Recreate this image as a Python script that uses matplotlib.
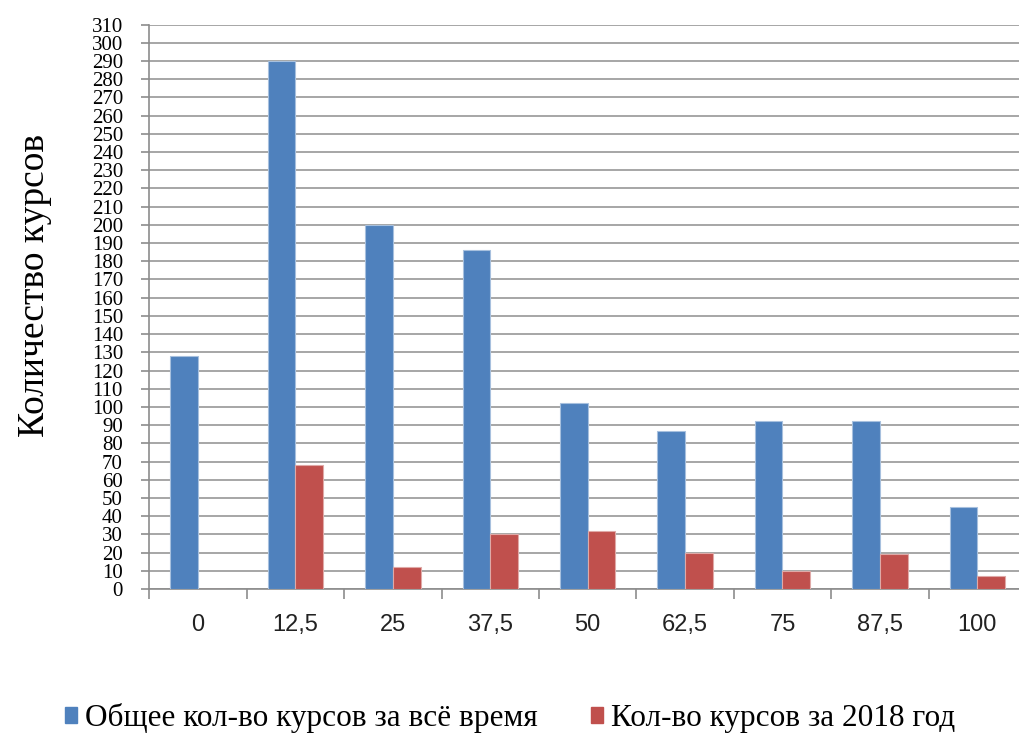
import matplotlib
matplotlib.use("Agg")
import matplotlib.pyplot as plt
from matplotlib.patches import Patch
import numpy as np

categories = ["0", "12,5", "25", "37,5", "50", "62,5", "75", "87,5", "100"]
total_all_time = [128, 290, 200, 186, 102, 87, 92, 92, 45]
total_2018 = [0, 68, 12, 30, 32, 20, 10, 19, 7]
series_names = ["Общее кол-во курсов за всё время", "Кол-во курсов за 2018 год"]
y_ticks = list(range(0, 311, 10))

BLUE = "#4F81BD"
RED = "#C0504D"
GRID = "#A6A6A6"
SERIF = "Liberation Serif"

fig = plt.figure(figsize=(10.2, 7.33), dpi=100)
ax = fig.add_axes([0.1464, 0.1965, 0.8595, 0.7699])

x = np.arange(len(categories))
w = 0.285
ax.bar(x - w / 2, total_all_time, w, color=BLUE, edgecolor="#A7C0DE", linewidth=0.8, zorder=3)
ax.bar(x + w / 2, total_2018, w, color=RED, edgecolor="#DFA9A7", linewidth=0.8, zorder=3)

ax.set_xlim(-0.5, len(categories) - 0.5)
ax.set_ylim(0, 310)
ax.set_yticks(y_ticks)
ax.set_yticklabels([str(v) for v in y_ticks], fontsize=15, family=SERIF)
ax.set_xticks(x)
ax.set_xticklabels(categories, fontsize=17, family="Liberation Sans", color="#222222")
ax.set_xticks(np.arange(-0.5, len(categories), 1.0), minor=True)
ax.tick_params(axis="x", which="major", length=0, pad=18)
ax.tick_params(axis="x", which="minor", length=7, width=1.2, color="#8C8C8C", direction="out")
ax.tick_params(axis="y", length=6, width=1.2, color="#8C8C8C", pad=13)

ax.yaxis.grid(True, color=GRID, linewidth=1.4, zorder=0)
ax.set_axisbelow(True)
for side in ("top", "right"):
    ax.spines[side].set_visible(False)
for side in ("left", "bottom"):
    ax.spines[side].set_color("#8C8C8C")
    ax.spines[side].set_linewidth(1.2)

# подпись оси Y чуть выше центра, как в исходнике
fig.text(35 / 1020, 1 - 285 / 733, "Количество курсов", rotation=90,
         ha="center", va="center", fontsize=27, family=SERIF)

handles = [Patch(color=BLUE), Patch(color=RED)]
fig.legend(handles, series_names, loc="center", bbox_to_anchor=(0.5, 0.02),
           ncol=2, frameon=False, prop={"family": SERIF, "size": 22.5},
           handlelength=0.4, handleheight=0.4, handletextpad=0.25,
           columnspacing=1.7)

fig.savefig("out.png", dpi=100)
